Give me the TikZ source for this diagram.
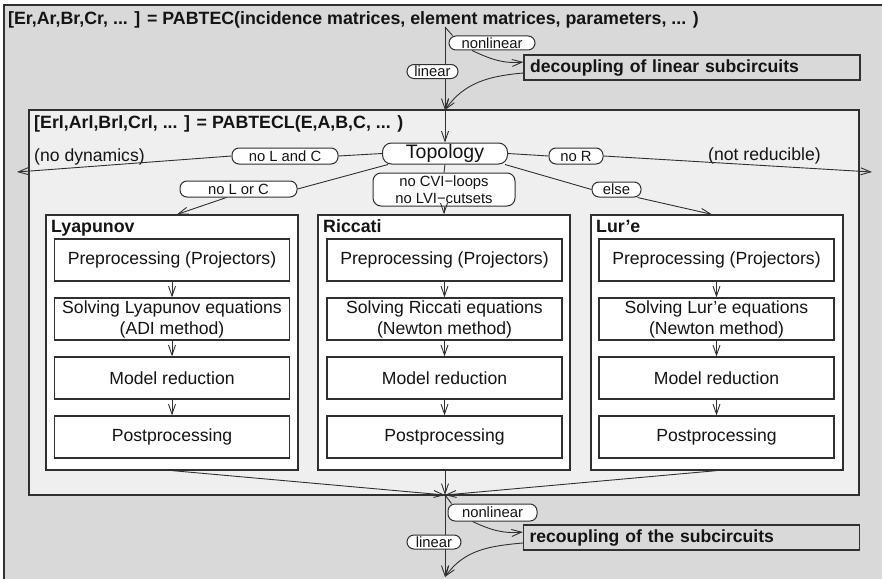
\documentclass[tikz,border=0pt]{standalone}
\usepackage{fontspec}
\setmainfont{Liberation Sans}
\usetikzlibrary{arrows.meta,calc}
\definecolor{outerbg}{HTML}{D9D9D9}
\definecolor{innerbg}{HTML}{EFEFEF}
\definecolor{edge}{HTML}{303030}
\definecolor{ink}{HTML}{141414}
\begin{document}
\begin{tikzpicture}[x=1pt,y=-1pt,
  txt/.style={inner sep=0pt, text=ink, font=\fontsize{17.6}{21}\selectfont},
  btxt/.style={inner sep=0pt, text=ink, font=\fontsize{17.8}{21}\selectfont\bfseries},
  pill/.style={draw=edge, fill=white, rounded corners=7pt, inner sep=0pt, line width=1pt, text=ink, font=\fontsize{14.8}{16}\selectfont},
  wbox/.style={draw=edge, fill=white, inner sep=0pt, line width=1.2pt, text=ink, align=center, font=\fontsize{17.6}{21}\selectfont},
  mbox/.style={wbox, minimum width=252pt, minimum height=255pt},
  sbox/.style={wbox, minimum width=235pt, minimum height=42pt},
  gbox/.style={draw=edge, fill=outerbg, line width=1.2pt, inner xsep=6pt, inner ysep=0pt, text width=324pt, minimum height=25pt, align=left, text=ink, font=\fontsize{17.6}{21}\selectfont\bfseries},
  conn/.style={draw=edge, line width=0.9pt},
  arr/.style={conn, -{Straight Barb[length=10pt,width=7pt]}}
]
\useasboundingbox (0,0) rectangle (882,578);
\clip (0,0) rectangle (882,578);
\fill[outerbg] (4,5) rectangle (900,600);
\draw[edge, line width=1.5pt] (4,600) -- (4,5) -- (900,5);

% top title
\node[btxt, anchor=base west] (title) at (8,25) {[Er,Ar,Br,Cr, ... ] = PABTEC(incidence matrices, element matrices, parameters, ... )};

% inner box
\node[draw=edge, fill=innerbg, line width=1.3pt, minimum width=830pt, minimum height=385pt, inner sep=0pt] (inner) at (444,302.5) {};
\node[btxt, anchor=base west] (ititle) at (34,128) {[Erl,Arl,Brl,Crl, ... ] = PABTECL(E,A,B,C, ... )};

% decoupling
\node[gbox] (dec) at (692,67.5) {decoupling of linear subcircuits};
\coordinate (top) at (445,27);
\coordinate (mtop) at (445,110);
\draw[arr] (top) -- (mtop);
\node[pill, minimum width=51pt, minimum height=14pt] (lin1) at (432.5,71.5) {linear};
\node[pill, minimum width=86pt, minimum height=14pt] (nl1) at (492,43) {nonlinear};
\draw[conn] (top) -- ([xshift=4pt]nl1.north west);
\draw[arr] ([xshift=-20pt]nl1.south) to[out=-25, in=185] ([yshift=5.5pt]dec.west);
\draw[arr] ([yshift=-5.5pt]dec.west) to[out=185, in=55] (mtop);

% topology
\node[pill, rounded corners=9pt, minimum width=125pt, minimum height=21pt, font=\fontsize{19.5}{22}\selectfont] (topo) at (445,153.5) {Topology};
\draw[arr] (mtop) -- (topo.north);

\node[txt, anchor=base west] (nodyn) at (34,161) {(no dynamics)};
\node[txt, anchor=base west] (notred) at (708,160) {(not reducible)};
\coordinate (leftend) at (17,172);
\coordinate (rightend) at (872,172);

\node[pill, minimum width=106pt, minimum height=16pt] (nlac) at (285,156) {no L and C};
\node[pill, minimum width=54pt, minimum height=16pt] (nr) at (576,156) {no R};
\node[pill, minimum width=117pt, minimum height=16pt] (nloc) at (238.5,189) {no L or C};
\node[pill, rounded corners=8pt, minimum width=142pt, minimum height=33pt, align=center, font=\fontsize{14.8}{17}\selectfont] (cvi) at (444,189.5) {no CVI\char"2212 loops\\no LVI\char"2212 cutsets};
\node[pill, minimum width=49pt, minimum height=15pt] (else) at (616.5,189.5) {else};

% method boxes
\node[mbox] (lyap) at (172,342.5) {};
\node[mbox] (ricc) at (444,342.5) {};
\node[mbox] (lure) at (717,342.5) {};
\node[btxt, anchor=base west] (lyapt) at (51,232) {Lyapunov};
\node[btxt, anchor=base west] (ricct) at (323,232) {Riccati};
\node[btxt, anchor=base west] (luret) at (596,232) {Lur\char"2019 e};

\draw[conn] (topo.west) -- (nlac.east);
\draw[arr] (nlac.west) -- (leftend);
\draw[conn] (topo.east) -- (nr.west);
\draw[arr] (nr.east) -- (rightend);
\draw[conn] ([xshift=6pt]topo.south west) -- (nloc.east);
\draw[arr] ([xshift=-12pt]nloc.south) -- ([xshift=5pt]lyap.north);
\draw[conn] (topo.south) -- (cvi.north);
\draw[arr] (cvi.south) -- (cvi.south |- ricc.north);
\draw[conn] ([xshift=-3pt]topo.south east) -- (else.west);
\draw[arr] ([xshift=-4pt]else.south east) -- ([xshift=-5pt]lure.north);

% sub boxes
\foreach \c/\n/\eq/\meth in {172/ly/Lyapunov/ADI method, 444.5/ri/Riccati/Newton method, 716.5/lu/Lur\char"2019 e/Newton method}{
  \node[sbox] (\n1) at (\c,260) {Preprocessing (Projectors)};
  \node[sbox] (\n2) at (\c,319) {Solving \eq\ equations\\(\meth)};
  \node[sbox] (\n3) at (\c,378) {Model reduction};
  \node[sbox] (\n4) at (\c,437) {Postprocessing};
  \draw[arr] (\n1.south) -- (\n2.north);
  \draw[arr] (\n2.south) -- (\n3.north);
  \draw[arr] (\n3.south) -- (\n4.north);
}

% merge
\coordinate (merge) at (445,495);
\coordinate (bot) at (445,577);
\draw[arr] (lyap.south) -- (merge);
\draw[arr] (ricc.south -| merge) -- (merge);
\draw[arr] (lure.south) -- (merge);

\node[gbox] (rec) at (691.5,537.5) {recoupling of the subcircuits};
\draw[arr] (merge) -- (bot);
\node[pill, minimum width=54pt, minimum height=14pt] (lin2) at (434,542) {linear};
\node[pill, minimum width=89pt, minimum height=17pt] (nl2) at (492.5,512.5) {nonlinear};
\draw[conn] (merge) -- ([xshift=4pt]nl2.north west);
\draw[arr] ([xshift=-20pt]nl2.south) to[out=-25, in=185] ([yshift=5.5pt]rec.west);
\draw[arr] ([yshift=-5.5pt]rec.west) to[out=185, in=55] (bot);
\end{tikzpicture}
\end{document}
